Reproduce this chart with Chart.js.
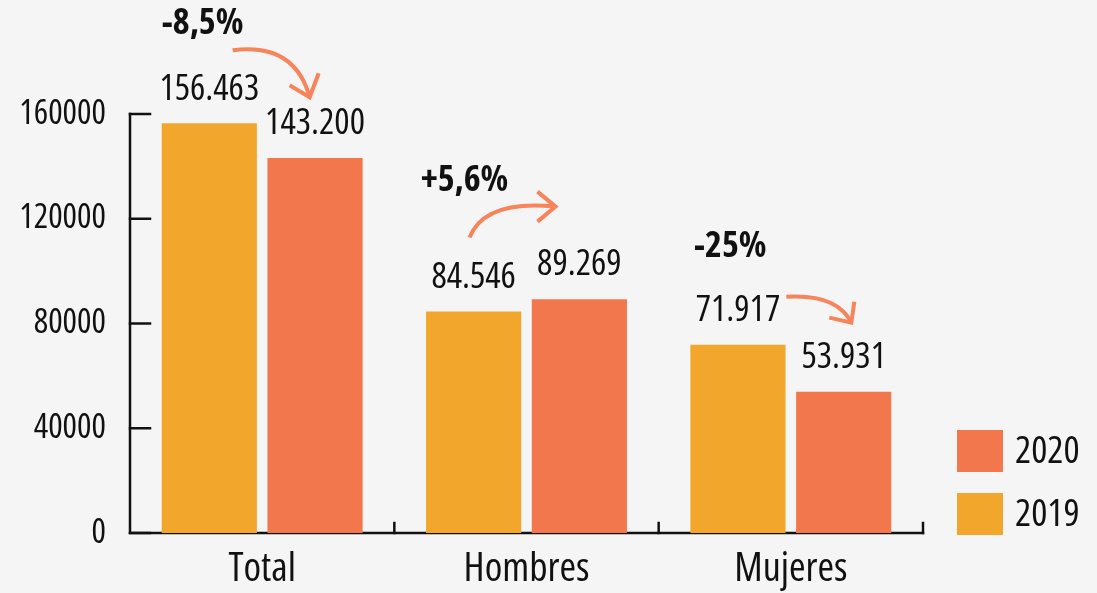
<!DOCTYPE html>
<html>
<head>
<meta charset="utf-8">
<script src="https://cdn.jsdelivr.net/npm/chart.js@4/dist/chart.umd.min.js"></script>
<style>
  html, body { margin: 0; padding: 0; background: #f5f5f5; }
  canvas { display: block; }
</style>
</head>
<body>
<canvas id="c" width="1097" height="593"></canvas>
<script>
const categories = ['Total', 'Hombres', 'Mujeres'];
const values2019 = [156463, 84546, 71917];
const values2020 = [143200, 89269, 53931];
const seriesLabels = ['2019', '2020'];
const yTicks = [0, 40000, 80000, 120000, 160000];
const changeLabels = ['-8,5%', '+5,6%', '-25%'];

const COLOR_2019 = '#F2A72C';
const COLOR_2020 = '#F2774C';
const ARROW = '#F7845A';
const FAM = "'Open Sans', 'Noto Sans Display', sans-serif";
const COND = 'condensed';

// annotation layout offsets relative to category centre / 2019 bar top (pixels)
const annoLayout = [
  { label: [-59.5, -100], start: [-29.5, -73], ctrl: [32.5, -81], tip: [47.5, -26], h1: [27.5, -38], h2: [56.5, -50] },
  { label: [-62, -131], start: [-57, -74], ctrl: [-42, -112], tip: [29, -105], h1: [11, -120], h2: [11, -90] },
  { label: [-60.5, -98], start: [-4.5, -48], ctrl: [46.5, -51], tip: [60.5, -22], h1: [63.5, -43], h2: [38.5, -27] }
];

function fmt(v) { return String(v).replace(/\B(?=(\d{3})+(?!\d))/g, '.'); }

const axesPlugin = {
  id: 'axesPlugin',
  beforeDatasetsDraw(chart) {
    const { ctx, chartArea: a, scales: { x, y } } = chart;
    ctx.save();
    ctx.strokeStyle = '#111';
    ctx.lineWidth = 2.5;
    ctx.lineCap = 'square';
    ctx.beginPath();
    ctx.moveTo(a.left, a.top);
    ctx.lineTo(a.left, a.bottom);
    ctx.lineTo(a.right, a.bottom);
    ctx.stroke();
    yTicks.forEach(t => {
      const py = y.getPixelForValue(t);
      ctx.beginPath();
      ctx.moveTo(a.left, py);
      ctx.lineTo(a.left + 20, py);
      ctx.stroke();
    });
    const n = categories.length;
    for (let i = 1; i <= n; i++) {
      const px = x.getPixelForValue(i - 0.5);
      ctx.beginPath();
      ctx.moveTo(px, a.bottom);
      ctx.lineTo(px, a.bottom - 10);
      ctx.stroke();
    }
    ctx.restore();
  },
  afterDatasetsDraw(chart) {
    const { ctx, chartArea: a, scales: { x, y } } = chart;
    ctx.save();
    ctx.fillStyle = '#111';
    ctx.font = COND + ' 36px ' + FAM;
    ctx.textAlign = 'center';
    ctx.textBaseline = 'middle';
    chart.data.datasets.forEach((ds, di) => {
      const meta = chart.getDatasetMeta(di);
      meta.data.forEach((bar, i) => {
        ctx.fillText(fmt(ds.data[i]), bar.x, bar.y - 34);
      });
    });
    categories.forEach((c, i) => {
      const cx = x.getPixelForValue(i);
      const cy = y.getPixelForValue(values2019[i]);
      const L = annoLayout[i];
      const P = p => [cx + p[0], cy + p[1]];
      ctx.fillStyle = '#111';
      ctx.font = 'bold ' + COND + ' 36px ' + FAM;
      const lp = P(L.label);
      ctx.fillText(changeLabels[i], lp[0], lp[1]);
      ctx.strokeStyle = ARROW;
      ctx.lineWidth = 4;
      ctx.lineCap = 'butt';
      ctx.lineJoin = 'miter';
      const s = P(L.start), k = P(L.ctrl), t = P(L.tip), h1 = P(L.h1), h2 = P(L.h2);
      ctx.beginPath();
      ctx.moveTo(s[0], s[1]);
      ctx.quadraticCurveTo(k[0], k[1], t[0], t[1]);
      ctx.stroke();
      ctx.beginPath();
      ctx.moveTo(h1[0], h1[1]);
      ctx.lineTo(t[0], t[1]);
      ctx.lineTo(h2[0], h2[1]);
      ctx.stroke();
    });
    const items = [
      { text: seriesLabels[1], color: COLOR_2020 },
      { text: seriesLabels[0], color: COLOR_2019 }
    ];
    const lx = a.right + 34;
    let ly = a.bottom - 103;
    ctx.textAlign = 'left';
    ctx.font = COND + ' 38px ' + FAM;
    items.forEach(it => {
      ctx.fillStyle = it.color;
      ctx.fillRect(lx, ly, 46, 42);
      ctx.fillStyle = '#111';
      ctx.fillText(it.text, lx + 58, ly + 22);
      ly += 63;
    });
    ctx.restore();
  }
};

const bgPlugin = {
  id: 'bg',
  beforeDraw(chart) {
    const { ctx } = chart;
    ctx.save();
    ctx.fillStyle = '#f5f5f5';
    ctx.fillRect(0, 0, chart.width, chart.height);
    ctx.restore();
  }
};

new Chart(document.getElementById('c'), {
  type: 'bar',
  data: {
    labels: categories,
    datasets: [
      { label: seriesLabels[0], data: values2019, backgroundColor: COLOR_2019 },
      { label: seriesLabels[1], data: values2020, backgroundColor: COLOR_2020 }
    ]
  },
  options: {
    responsive: false,
    animation: false,
    devicePixelRatio: 1,
    layout: { padding: { top: 114, right: 174, left: 0, bottom: 0 } },
    datasets: { bar: { categoryPercentage: 0.8, barPercentage: 0.9 } },
    plugins: { legend: { display: false }, tooltip: { enabled: false } },
    scales: {
      x: {
        grid: { display: false, drawTicks: false },
        border: { display: false },
        ticks: { color: '#111', font: { family: FAM, size: 40, weight: COND }, padding: 13 },
        afterFit(s) { s.height = 60; }
      },
      y: {
        min: 0, max: 160000,
        grid: { display: false, drawTicks: false },
        border: { display: false },
        afterBuildTicks(s) { s.ticks = yTicks.map(v => ({ value: v })); },
        ticks: { color: '#111', font: { family: FAM, size: 34, weight: COND }, padding: 24, callback: v => String(v) },
        afterFit(s) { s.width = 130; }
      }
    }
  },
  plugins: [bgPlugin, axesPlugin]
});
</script>
</body>
</html>
